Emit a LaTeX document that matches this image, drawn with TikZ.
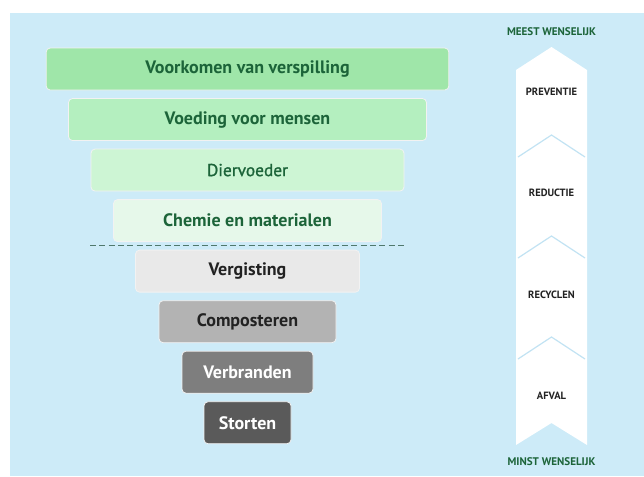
\documentclass[tikz,border=0pt]{standalone}
\usepackage{fontspec}
\setmainfont{PT Sans}
\newfontfamily\mediumfont{PT Sans}[FakeBold=1.2]
\usetikzlibrary{shapes, arrows}
\definecolor{bgblue}{HTML}{CDEBF8}
\definecolor{chev}{HTML}{C2E3F3}
\definecolor{txtgreen}{HTML}{1C6439}
\definecolor{dashgray}{HTML}{4F786C}
\definecolor{fillA}{HTML}{9FE6A9}
\definecolor{fillB}{HTML}{B4EFBF}
\definecolor{fillC}{HTML}{CDF5D4}
\definecolor{fillD}{HTML}{E6F8EA}
\definecolor{fillE}{HTML}{E9E9E9}
\definecolor{fillF}{HTML}{B3B3B3}
\definecolor{fillG}{HTML}{7E7E7E}
\definecolor{fillH}{HTML}{5A5A5A}
\definecolor{txtdark}{HTML}{222222}

\begin{document}
\begin{tikzpicture}[x=0.75pt, y=-0.75pt, node distance=37.9pt, >=stealth]
    \tikzstyle{block} = [rectangle, draw=white!90!gray, line width=0.6pt, rounded corners=3pt, minimum height=31.5pt, font=\bfseries\fontsize{13.5}{15}\selectfont, text centered, inner sep=0pt]
    \tikzstyle{good} = [block, text=txtgreen]
    \tikzstyle{bad} = [block, text=txtdark]
    \tikzstyle{tag} = [font=\bfseries\fontsize{7.9}{9}\selectfont, text=txtdark]
    \tikzstyle{end} = [font=\bfseries\fontsize{8.3}{9}\selectfont, text=txtgreen]
    \tikzstyle{chevron} = [draw=chev, line width=0.9pt]

    % Background
    \fill[white] (0,0) rectangle (644,476);
    \fill[bgblue] (10,13) rectangle (644,476);
    \useasboundingbox (0,0) rectangle (644,476);

    % Ladder
    \node [good, fill=fillA, minimum width=302pt] at (247.5,69) (prevent) {Voorkomen van verspilling};
    \node [good, fill=fillB, minimum width=268.5pt, below of=prevent] (food) {Voeding voor mensen};
    \node [good, fill=fillC, minimum width=234.75pt, below of=food, font=\mediumfont\fontsize{13}{15}\selectfont] (feed) {Diervoeder};
    \node [good, fill=fillD, minimum width=201pt, below of=feed] (chem) {Chemie en materialen};
    \node [bad, fill=fillE, minimum width=168pt, below of=chem] (digest) {Vergisting};
    \node [bad, fill=fillF, minimum width=132.75pt, below of=digest] (compost) {Composteren};
    \node [block, fill=fillG, text=white, minimum width=98.25pt, below of=compost] (burn) {Verbranden};
    \node [block, fill=fillH, text=white, minimum width=65.25pt, below of=burn] (dump) {Storten};

    % Divider
    \coordinate (divL) at (90,245.5);
    \coordinate (divR) at (405,245.5);
    \draw [dashgray, line width=1pt, dash pattern=on 4.5pt off 2.5pt] (divL) -- (divR);

    % Arrow
    \fill [white] (516,70) -- (551.5,47) -- (587,70) -- (587,445) -- (551.5,423) -- (516,445) -- cycle;
    \foreach \y in {135,236,337}
        \draw [chevron] (518,\y+22) -- (551.5,\y) -- (585,\y+22);

    % Labels
    \node [end] at (551.5,32) (most) {MEEST WENSELIJK};
    \node [tag] at (551.5,92) (prev) {PREVENTIE};
    \node [tag] at (551.5,193) (red) {REDUCTIE};
    \node [tag] at (551.5,295) (rec) {RECYCLEN};
    \node [tag] at (551.5,396) (waste) {AFVAL};
    \node [end] at (551.5,462) (least) {MINST WENSELIJK};

\end{tikzpicture}
\end{document}
